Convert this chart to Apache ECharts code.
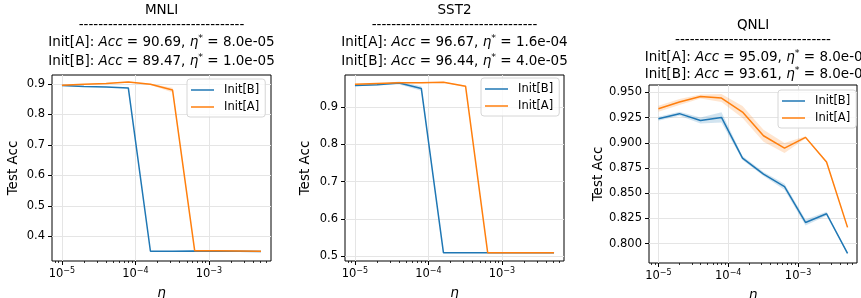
<!DOCTYPE html>
<html>
<head>
<meta charset="utf-8">
<script src="https://cdn.jsdelivr.net/npm/echarts@6/dist/echarts.min.js"></script>
<style>
  html, body { margin: 0; padding: 0; background: #fff; }
  #main { width: 861px; height: 298px; }
</style>
</head>
<body>
<div id="main"></div>
<script>
// learning rates (x), shared by all three tasks
const lrs = [1e-5, 2e-5, 4e-5, 8e-5, 1.6e-4, 3.2e-4, 6.4e-4, 1.28e-3, 2.56e-3, 5.12e-3];
const tasks = ['MNLI', 'SST2', 'QNLI'];

// mean test acc + std band half-widths
const mnliB = [0.8947, 0.892, 0.890, 0.887, 0.351, 0.351, 0.352, 0.351, 0.351, 0.350];
const mnliBStd = [0.001, 0.001, 0.001, 0.001, 0.001, 0.001, 0.001, 0.001, 0.001, 0.001];
const mnliA = [0.896, 0.899, 0.902, 0.9069, 0.899, 0.880, 0.353, 0.353, 0.352, 0.351];
const mnliAStd = [0.001, 0.001, 0.001, 0.001, 0.002, 0.008, 0.001, 0.001, 0.001, 0.001];

const sst2B = [0.958, 0.960, 0.9644, 0.950, 0.509, 0.509, 0.509, 0.509, 0.509, 0.509];
const sst2BStd = [0.002, 0.002, 0.004, 0.006, 0.0005, 0.0005, 0.0005, 0.0005, 0.0005, 0.0005];
const sst2A = [0.961, 0.963, 0.965, 0.965, 0.9667, 0.956, 0.509, 0.509, 0.509, 0.509];
const sst2AStd = [0.001, 0.001, 0.001, 0.001, 0.001, 0.002, 0.0005, 0.0005, 0.0005, 0.0005];

const qnliB = [0.9239, 0.9289, 0.9222, 0.9252, 0.8849, 0.869, 0.8565, 0.8211, 0.8297, 0.7904];
const qnliBStd = [0.002, 0.002, 0.003, 0.005, 0.002, 0.002, 0.003, 0.003, 0.002, 0.001];
const qnliA = [0.9338, 0.9404, 0.946, 0.9444, 0.9305, 0.907, 0.8948, 0.9054, 0.881, 0.8162];
const qnliAStd = [0.003, 0.003, 0.002, 0.004, 0.006, 0.006, 0.005, 0.001, 0.001, 0.001];

// subtitle numbers
const accA = ['90.69', '96.67', '95.09'];
const etaA = ['8.0e-05', '1.6e-04', '8.0e-05'];
const accB = ['89.47', '96.44', '93.61'];
const etaB = ['1.0e-05', '4.0e-05', '8.0e-05'];

// axis ticks
const xTicks = [-5, -4, -3];
const yTicks = [
  [0.4, 0.5, 0.6, 0.7, 0.8, 0.9],
  [0.5, 0.6, 0.7, 0.8, 0.9],
  [0.8, 0.825, 0.85, 0.875, 0.9, 0.925, 0.95]
];
const yDec = [1, 1, 3];
const yRange = [[0.319, 0.9295], [0.4866, 0.986], [0.7809, 0.9573]];

const seriesB = [mnliB, sst2B, qnliB];
const stdB = [mnliBStd, sst2BStd, qnliBStd];
const seriesA = [mnliA, sst2A, qnliA];
const stdA = [mnliAStd, sst2AStd, qnliAStd];

const BLUE = '#1f77b4';
const ORANGE = '#ff7f0e';
const FONT = 'DejaVu Sans';

// layout
const grids = [
  { left: 52, top: 75, width: 219, height: 186 },
  { left: 345, top: 75, width: 219, height: 186 },
  { left: 649, top: 85, width: 208, height: 178 }
];
const titleY = [[10, 25, 42.5, 61], [10, 25, 42.5, 61], [25, 40, 57, 74]];
const subShift = [0, 0, 5];   // QNLI subtitle runs off the right edge in the original
const dashCount = [34, 34, 32];
const legendPos = [[187, 79], [481, 78], [778, 90]];
const yNameGap = [32, 33, 42];

const lx = lrs.map(v => Math.log10(v));
const span = lx[lx.length - 1] - lx[0];
const xMin = lx[0] - 0.05 * span;
const xMax = lx[lx.length - 1] + 0.05 * span;

const minorTicks = [];
for (let e = -6; e <= -2; e++) {
  for (let k = 2; k <= 9; k++) {
    const v = Math.log10(k) + e;
    if (v > xMin && v < xMax) minorTicks.push(v);
  }
}

const supRich = {
  b: { fontSize: 11.5, fontFamily: FONT, color: '#000' },
  s: { fontSize: 8, fontFamily: FONT, color: '#000', padding: [0, 0, 7, 0] }
};

function bandSeries(gi, vals, std, color) {
  const pts = lx.map((x, j) => [x, vals[j] - std[j], vals[j] + std[j]]);
  return {
    type: 'custom',
    xAxisIndex: gi * 2,
    yAxisIndex: gi,
    silent: true,
    clip: true,
    z: 1,
    data: pts,
    encode: { x: 0, y: [1, 2] },
    renderItem: (params, api) => {
      if (params.dataIndex !== 0) return null;
      const upper = pts.map(p => api.coord([p[0], p[2]]));
      const lower = pts.map(p => api.coord([p[0], p[1]])).reverse();
      return {
        type: 'polygon',
        shape: { points: upper.concat(lower) },
        style: { fill: color, opacity: 0.2 }
      };
    }
  };
}

function lineSeries(gi, name, vals, color) {
  return {
    type: 'line',
    name: name,
    xAxisIndex: gi * 2,
    yAxisIndex: gi,
    data: lx.map((x, j) => [x, vals[j]]),
    showSymbol: false,
    symbol: 'none',
    color: color,
    lineStyle: { width: 1.5, color: color },
    clip: true,
    z: 3,
    animation: false
  };
}

const xAxes = [];
const yAxes = [];
const series = [];
const graphics = [];

grids.forEach((g, i) => {
  xAxes.push({
    type: 'value', gridIndex: i, position: 'bottom', min: xMin, max: xMax,
    axisLine: { show: false },
    axisTick: { customValues: xTicks, length: 4, lineStyle: { color: '#000' } },
    axisLabel: {
      customValues: xTicks, margin: 6,
      formatter: v => '{b|10}{s|\u2212' + Math.round(-v) + '}',
      rich: supRich
    },
    splitLine: { show: true, lineStyle: { color: '#e5e5e5', width: 1 } },
    name: 'η', nameLocation: 'middle', nameGap: 25,
    nameTextStyle: { fontSize: 13.5, fontStyle: 'italic', fontFamily: FONT, color: '#000' }
  });
  xAxes.push({
    type: 'value', gridIndex: i, position: 'bottom', offset: 0, min: xMin, max: xMax,
    axisLine: { show: false },
    axisTick: { customValues: minorTicks, length: 2, lineStyle: { color: '#000', width: 0.8 } },
    axisLabel: { show: false },
    splitLine: { show: false }
  });
  yAxes.push({
    type: 'value', gridIndex: i, min: yRange[i][0], max: yRange[i][1],
    axisLine: { show: false },
    axisTick: { customValues: yTicks[i], length: 4, lineStyle: { color: '#000' } },
    axisLabel: {
      customValues: yTicks[i], margin: 7,
      formatter: v => v.toFixed(yDec[i]),
      fontSize: 11.5, fontFamily: FONT, color: '#000'
    },
    splitLine: { show: true, lineStyle: { color: '#e5e5e5', width: 1 } },
    name: 'Test Acc', nameLocation: 'middle', nameGap: yNameGap[i],
    nameTextStyle: { fontSize: 13.5, fontFamily: FONT, color: '#000' }
  });

  series.push(bandSeries(i, seriesB[i], stdB[i], BLUE));
  series.push(lineSeries(i, 'Init[B]', seriesB[i], BLUE));
  series.push(bandSeries(i, seriesA[i], stdA[i], ORANGE));
  series.push(lineSeries(i, 'Init[A]', seriesA[i], ORANGE));

  const cx = g.left + g.width / 2;
  const lines = [
    tasks[i],
    '-'.repeat(dashCount[i]),
    'Init[A]: {it|Acc} = ' + accA[i] + ', {it|η}{sup|*} = ' + etaA[i],
    'Init[B]: {it|Acc} = ' + accB[i] + ', {it|η}{sup|*} = ' + etaB[i]
  ];
  lines.forEach((t, k) => {
    graphics.push({
      type: 'text',
      x: cx + (k >= 2 ? subShift[i] : 0), y: titleY[i][k],
      style: {
        text: t,
        fontSize: 13.5, fontFamily: FONT, fill: '#000',
        align: 'center', verticalAlign: 'middle',
        rich: {
          it: { fontStyle: 'italic', fontSize: 13.5, fontFamily: FONT },
          sup: { fontSize: 9.5, fontFamily: FONT, padding: [0, 0, 7, 0] }
        }
      }
    });
  });
});

const chart = echarts.init(document.getElementById('main'), null, { renderer: 'canvas' });
chart.setOption({
  animation: false,
  backgroundColor: '#fff',
  grid: grids.map(g => Object.assign({
    show: true, borderColor: '#000', borderWidth: 1, backgroundColor: 'transparent',
    containLabel: false, outerBoundsMode: 'none'
  }, g)),
  xAxis: xAxes,
  yAxis: yAxes,
  legend: legendPos.map(p => ({
    data: ['Init[B]', 'Init[A]'],
    orient: 'vertical',
    left: p[0], top: p[1],
    icon: 'rect', itemWidth: 23, itemHeight: 1.5, itemGap: 5,
    selectedMode: false,
    textStyle: { fontSize: 11.5, fontFamily: FONT, color: '#000', padding: [0, 0, 0, 5] },
    backgroundColor: 'rgba(255,255,255,0.8)',
    borderColor: '#d6d6d6', borderWidth: 1, borderRadius: 3,
    padding: [5, 6, 4, 4]
  })),
  graphic: graphics,
  series: series
});
</script>
</body>
</html>
